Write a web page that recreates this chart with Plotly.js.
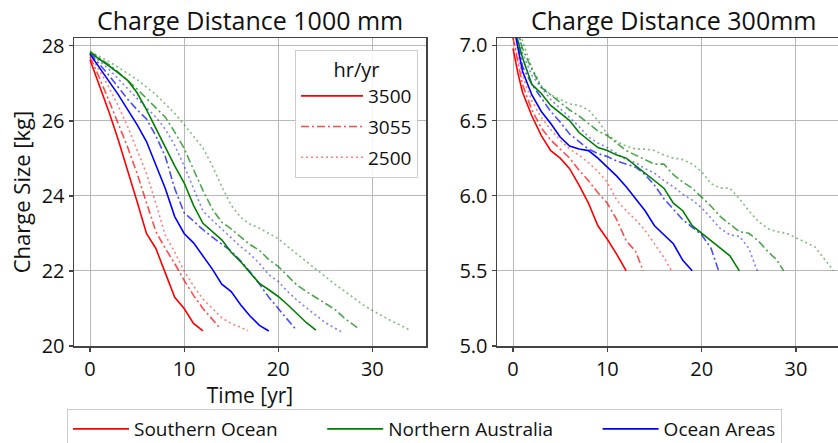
<!DOCTYPE html>
<html><head><meta charset="utf-8">
<script src="https://cdn.plot.ly/plotly-3.0.1.min.js"></script>
<style>html,body{margin:0;padding:0;background:#fff;overflow:hidden}#chart{width:838px;height:443px}</style>
</head><body><div id="chart"></div>
<script>
// ---------- Charge distance 1000 mm ----------
const t1000_SO_3500 = [0,1,2,3,4,5,6,7,8,9,10,11,12];
const v1000_SO_3500 = [27.63,26.95,26.25,25.5,24.7,23.85,23.0,22.6,21.95,21.3,21.0,20.6,20.4];
const t1000_SO_3055 = [0,1,2,3,4,5,6,7,8,9,10,11,12,13,13.8];
const v1000_SO_3055 = [27.7,27.15,26.55,25.95,25.3,24.6,23.85,23.05,22.6,22.2,21.75,21.35,21.0,20.7,20.48];
const t1000_SO_2500 = [0,1,2,3,4,5,6,7,8,9,10,11,12,13,14,15,16,16.8];
const v1000_SO_2500 = [27.75,27.35,26.9,26.4,25.85,25.25,24.6,23.8,22.95,22.5,22.0,21.6,21.25,21.0,20.75,20.6,20.5,20.41];
const t1000_OA_3500 = [0,1,2,3,4,5,6,7,8,9,10,11,12,13,14,15,16,17,18,19];
const v1000_OA_3500 = [27.78,27.42,27.05,26.7,26.3,25.9,25.45,24.85,24.2,23.45,23.0,22.75,22.4,22.05,21.65,21.45,21.1,20.8,20.55,20.4];
const t1000_OA_3055 = [0,1,2,3,4,5,6,7,8,9,10,11,12,13,14,15,16,17,18,19,20,21,21.9];
const v1000_OA_3055 = [27.8,27.52,27.22,26.9,26.58,26.3,26.05,25.6,25.05,24.2,23.55,23.33,23.1,22.9,22.72,22.53,22.27,21.98,21.65,21.3,21.0,20.7,20.43];
const t1000_OA_2500 = [0,1,2,3,4,5,6,7,8,9,10,11,12,13,14,15,16,17,18,19,20,21,22,23,24,25,26,26.7];
const v1000_OA_2500 = [27.82,27.6,27.38,27.12,26.85,26.6,26.35,26.1,25.78,25.35,24.8,24.2,23.6,23.35,23.12,22.9,22.65,22.45,22.2,21.9,21.72,21.45,21.22,21.02,20.82,20.62,20.48,20.38];
const t1000_NA_3500 = [0,1,2,3,4,5,6,7,8,9,10,11,12,13,14,15,16,17,18,19,20,21,22,23,24];
const v1000_NA_3500 = [27.82,27.65,27.47,27.28,27.08,26.75,26.3,25.8,25.3,24.8,24.35,23.75,23.27,23.05,22.83,22.5,22.25,21.95,21.67,21.5,21.32,21.1,20.85,20.62,20.42];
const t1000_NA_3055 = [0,1,2,3,4,5,6,7,8,9,10,11,12,13,14,15,16,17,18,19,20,21,22,23,24,25,26,27,28,28.6];
const v1000_NA_3055 = [27.85,27.68,27.5,27.3,27.08,26.85,26.6,26.35,26.1,25.7,25.27,24.7,24.15,23.65,23.3,23.12,22.9,22.7,22.55,22.3,22.12,21.88,21.62,21.45,21.3,21.15,20.98,20.75,20.55,20.45];
const t1000_NA_2500 = [0,1,2,3,4,5,6,7,8,9,10,11,12,13,14,15,16,17,18,19,20,21,22,23,24,25,26,27,28,29,30,31,32,33,34];
const v1000_NA_2500 = [27.85,27.72,27.58,27.43,27.27,27.1,26.9,26.7,26.45,26.2,25.9,25.6,25.28,24.8,24.25,23.75,23.43,23.25,23.14,23.0,22.86,22.65,22.45,22.25,22.03,21.83,21.65,21.47,21.28,21.1,20.95,20.8,20.67,20.55,20.42];

// ---------- Charge distance 300 mm ----------
const t300_SO_3500 = [0,0.5,1,2,3,4,5,6,7,8,9,10,11,12];
const v300_SO_3500 = [6.98,6.82,6.69,6.53,6.4,6.3,6.25,6.18,6.07,5.95,5.8,5.71,5.61,5.5];
const t300_SO_3055 = [0,1,2,3,4,5,6,7,8,9,10,11,12,13,13.8];
const v300_SO_3055 = [7.05,6.74,6.57,6.45,6.37,6.31,6.25,6.17,6.1,6.02,5.95,5.84,5.7,5.63,5.5];
const t300_SO_2500 = [0,1,2,3,4,5,6,7,8,9,10,11,12,13,14,15,16,16.8];
const v300_SO_2500 = [7.05,6.8,6.63,6.52,6.44,6.37,6.31,6.27,6.22,6.16,6.09,5.97,5.9,5.84,5.77,5.68,5.59,5.5];
const t300_OA_3500 = [0,1,2,3,4,5,6,7,8,9,10,11,12,13,14,15,16,17,18,19];
const v300_OA_3500 = [7.15,6.83,6.67,6.56,6.48,6.39,6.33,6.31,6.3,6.25,6.19,6.13,6.06,5.98,5.9,5.8,5.74,5.68,5.57,5.5];
const t300_OA_3055 = [0,1,2,3,4,5,6,7,8,9,10,11,12,13,14,15,16,17,18,19,20,21,21.8];
const v300_OA_3055 = [7.2,6.86,6.74,6.65,6.56,6.49,6.41,6.36,6.31,6.28,6.26,6.23,6.21,6.19,6.14,6.07,5.98,5.91,5.84,5.79,5.74,5.65,5.5];
const t300_OA_2500 = [0,1,2,3,4,5,6,7,8,9,10,11,12,13,14,15,16,17,18,19,20,21,22,23,24,25,25.9];
const v300_OA_2500 = [7.25,6.95,6.8,6.72,6.64,6.58,6.52,6.46,6.39,6.35,6.32,6.28,6.24,6.22,6.18,6.15,6.1,6.06,6.01,5.97,5.92,5.85,5.78,5.74,5.73,5.65,5.5];
const t300_NA_3500 = [0,1,2,3,4,5,6,7,8,9,10,11,12,13,14,15,16,17,18,19,20,21,22,23,24];
const v300_NA_3500 = [7.15,6.92,6.74,6.68,6.6,6.55,6.5,6.42,6.37,6.32,6.3,6.27,6.25,6.2,6.15,6.1,6.05,5.95,5.9,5.8,5.75,5.7,5.65,5.6,5.5];
const t300_NA_3055 = [0,1,2,3,4,5,6,7,8,9,10,11,12,13,14,15,16,17,18,19,20,21,22,23,24,25,26,27,28,28.7];
const v300_NA_3055 = [7.22,6.98,6.84,6.72,6.67,6.62,6.57,6.53,6.48,6.43,6.4,6.35,6.3,6.27,6.24,6.21,6.21,6.14,6.09,6.05,5.99,5.93,5.86,5.81,5.76,5.75,5.7,5.63,5.57,5.5];
const t300_NA_2500 = [0,1,2,3,4,5,6,7,8,9,10,11,12,13,14,15,16,17,18,19,20,21,22,23,24,25,26,27,28,29,30,31,32,33,34];
const v300_NA_2500 = [7.3,7.03,6.85,6.73,6.67,6.64,6.61,6.6,6.57,6.5,6.41,6.36,6.33,6.31,6.31,6.3,6.27,6.25,6.24,6.21,6.16,6.08,6.05,6.05,5.98,5.9,5.83,5.78,5.76,5.75,5.72,5.69,5.66,5.58,5.5];

// ---------- labels ----------
const regionNames = ['Southern Ocean', 'Northern Australia', 'Ocean Areas'];
const regionKeys = ['SO', 'NA', 'OA'];
const hourLabels = ['3500', '3055', '2500'];
const panelTitles = ['Charge Distance 1000 mm', 'Charge Distance 300mm'];
const xTicks = [0, 10, 20, 30];
const yTicksLeft = [20, 22, 24, 26, 28];
const yTicksRight = [5.0, 5.5, 6.0, 6.5, 7.0];

// ---------- styles ----------
const regionColors = {SO: '#ff0000', NA: '#008000', OA: '#0000ff'};
const hourDash = {'3500': 'solid', '3055': '8px,3px,2px,3px', '2500': '2px,3px'};
const hourOpacity = {'3500': 1, '3055': 0.7, '2500': 0.5};
const legendPad = ['\u00a0'.repeat(8), '\u00a0'.repeat(8), ''];  // column spacing of the bottom legend
const FONT = 'Open Sans, Noto Sans, sans-serif';

const series = {
  '1000': {
    SO: {'3500': [t1000_SO_3500, v1000_SO_3500], '3055': [t1000_SO_3055, v1000_SO_3055], '2500': [t1000_SO_2500, v1000_SO_2500]},
    NA: {'3500': [t1000_NA_3500, v1000_NA_3500], '3055': [t1000_NA_3055, v1000_NA_3055], '2500': [t1000_NA_2500, v1000_NA_2500]},
    OA: {'3500': [t1000_OA_3500, v1000_OA_3500], '3055': [t1000_OA_3055, v1000_OA_3055], '2500': [t1000_OA_2500, v1000_OA_2500]}
  },
  '300': {
    SO: {'3500': [t300_SO_3500, v300_SO_3500], '3055': [t300_SO_3055, v300_SO_3055], '2500': [t300_SO_2500, v300_SO_2500]},
    NA: {'3500': [t300_NA_3500, v300_NA_3500], '3055': [t300_NA_3055, v300_NA_3055], '2500': [t300_NA_2500, v300_NA_2500]},
    OA: {'3500': [t300_OA_3500, v300_OA_3500], '3055': [t300_OA_3055, v300_OA_3055], '2500': [t300_OA_2500, v300_OA_2500]}
  }
};

const traces = [];
[['1000', 'x', 'y'], ['300', 'x2', 'y2']].forEach(([panel, xa, ya]) => {
  hourLabels.slice().reverse().forEach(h => {
    regionKeys.forEach(k => {
      const [t, v] = series[panel][k][h];
      traces.push({
        x: t, y: v, xaxis: xa, yaxis: ya, type: 'scatter', mode: 'lines',
        line: {color: regionColors[k], width: 1.6, dash: hourDash[h]},
        opacity: hourOpacity[h], showlegend: false, hoverinfo: 'skip'
      });
    });
  });
});

// legend 1: hr/yr (red, by line style)
hourLabels.forEach((h, i) => {
  traces.push({
    x: [null], y: [null], xaxis: 'x', yaxis: 'y', type: 'scatter', mode: 'lines',
    name: h, legend: 'legend', legendgroup: 'h' + i,
    line: {color: regionColors.SO, width: 1.6, dash: hourDash[h]}, opacity: hourOpacity[h]
  });
});
// legend 2: regions
regionKeys.forEach((k, i) => {
  traces.push({
    x: [null], y: [null], xaxis: 'x', yaxis: 'y', type: 'scatter', mode: 'lines',
    name: regionNames[i] + legendPad[i], legend: 'legend2',
    line: {color: regionColors[k], width: 1.6}
  });
});

const axisCommon = {
  showline: true, linecolor: '#444', linewidth: 1.5,
  showgrid: true, gridcolor: '#b8b8b8', gridwidth: 1,
  zeroline: false, ticks: 'outside', ticklen: 4, tickcolor: '#444', tickwidth: 1.2,
  tickfont: {family: FONT, size: 20, color: '#111'}, fixedrange: true, automargin: false
};

const W = 838, H = 443, L = 74, T = 38, B = 97;
const pw = W - L;
const layout = {
  width: W, height: H,
  margin: {l: L, r: 0, t: T, b: B, pad: 0, autoexpand: false},
  paper_bgcolor: '#fff', plot_bgcolor: '#fff',
  font: {family: FONT, color: '#111'},
  xaxis: Object.assign({}, axisCommon, {
    domain: [0, (426 - L) / pw], range: [-1.7, 35.7], tickvals: xTicks, mirror: true, anchor: 'y',
    title: {text: 'Time [yr]', font: {family: FONT, size: 21, color: '#111'}, standoff: 6}
  }),
  yaxis: Object.assign({}, axisCommon, {
    domain: [0, 1], range: [20, 28.21], tickvals: yTicksLeft, mirror: true, anchor: 'x',
    title: {text: 'Charge Size [kg]', font: {family: FONT, size: 22, color: '#111'}, standoff: 5}
  }),
  xaxis2: Object.assign({}, axisCommon, {
    domain: [(497 - L) / pw, 1], range: [-1.7, 34.46], tickvals: xTicks, mirror: true, anchor: 'y2'
  }),
  yaxis2: Object.assign({}, axisCommon, {
    domain: [0, 1], range: [5.0, 7.049], tickvals: yTicksRight, tickformat: '.1f', anchor: 'x2'
  }),
  legend: {
    x: (418 - L) / pw, xanchor: 'right', y: (346 - 50) / 308, yanchor: 'top',
    bgcolor: 'rgba(255,255,255,0.85)', bordercolor: '#cccccc', borderwidth: 1,
    font: {family: FONT, size: 19, color: '#111'}, itemwidth: 62,
    title: {text: 'hr/yr', side: 'top center', font: {family: FONT, size: 20, color: '#111'}},
    traceorder: 'grouped', tracegroupgap: 3
  },
  legend2: {
    orientation: 'h', xref: 'container', yref: 'container',
    x: 67 / W, xanchor: 'left', y: (H - 409) / H, yanchor: 'top',
    bgcolor: '#fff', bordercolor: '#cccccc', borderwidth: 1,
    font: {family: FONT, size: 19, color: '#111'}, itemwidth: 56
  },
  annotations: [
    {text: panelTitles[0], xref: 'paper', yref: 'paper', x: (250 - L) / pw, y: (346 - 20) / 308,
     xanchor: 'center', yanchor: 'middle', showarrow: false, font: {family: FONT, size: 25, color: '#111'}},
    {text: panelTitles[1], xref: 'paper', yref: 'paper', x: (673 - L) / pw, y: (346 - 20) / 308,
     xanchor: 'center', yanchor: 'middle', showarrow: false, font: {family: FONT, size: 25, color: '#111'}}
  ],
  showlegend: true
};

Plotly.newPlot('chart', traces, layout, {staticPlot: true, displayModeBar: false});
</script></body></html>
